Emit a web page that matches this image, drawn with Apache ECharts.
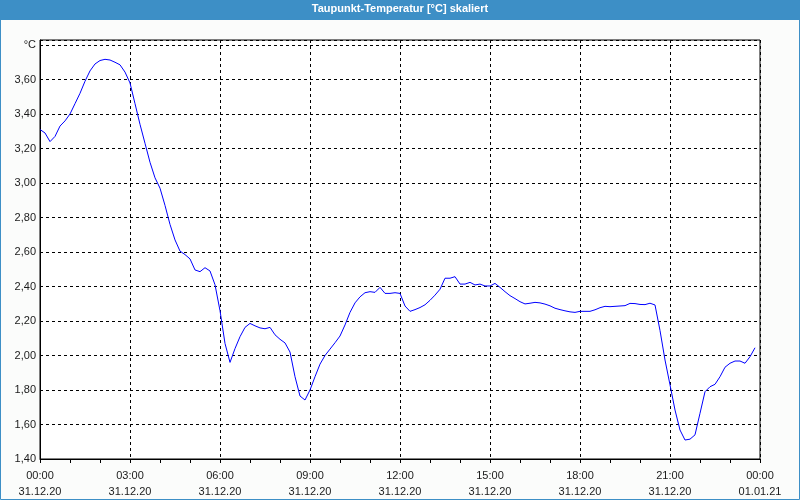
<!DOCTYPE html>
<html>
<head>
<meta charset="utf-8">
<script src="https://cdn.jsdelivr.net/npm/echarts@6/dist/echarts.min.js"></script>
<style>
html,body{margin:0;padding:0;background:#fbfcfb;}
#chart{width:800px;height:500px;}
</style>
</head>
<body>
<div id="chart"></div>
<script>
// Dew point temperature, 10-minute samples from 31.12.20 00:00 to 23:50
const titleText = 'Taupunkt-Temperatur [°C] skaliert';
const stepMinutes = 10;
const dewPoint = [
  3.31, 3.29, 3.24, 3.27, 3.33, 3.36, 3.40, 3.46, 3.52, 3.59, 3.65, 3.69,
  3.71, 3.717, 3.713, 3.70, 3.685, 3.643, 3.58, 3.46, 3.34, 3.23, 3.12, 3.03,
  2.97, 2.87, 2.76, 2.67, 2.605, 2.585, 2.56, 2.496, 2.486, 2.509, 2.49, 2.41,
  2.26, 2.07, 1.96, 2.04, 2.109, 2.163, 2.186, 2.172, 2.16, 2.155, 2.163, 2.12,
  2.094, 2.073, 2.02, 1.877, 1.765, 1.742, 1.80, 1.877, 1.95, 2.00, 2.037, 2.074,
  2.113, 2.177, 2.25, 2.305, 2.34, 2.364, 2.37, 2.366, 2.395, 2.36, 2.36, 2.364,
  2.36, 2.287, 2.256, 2.266, 2.278, 2.294, 2.32, 2.35, 2.384, 2.448, 2.448, 2.457,
  2.414, 2.414, 2.424, 2.409, 2.414, 2.403, 2.403, 2.418, 2.395, 2.37, 2.347, 2.33,
  2.312, 2.299, 2.303, 2.308, 2.305, 2.298, 2.288, 2.274, 2.266, 2.259, 2.253, 2.25,
  2.256, 2.256, 2.256, 2.265, 2.277, 2.285, 2.283, 2.285, 2.287, 2.289, 2.302, 2.301,
  2.296, 2.295, 2.303, 2.293, 2.145, 1.974, 1.83, 1.684, 1.568, 1.51, 1.515, 1.54,
  1.665, 1.79, 1.819, 1.833, 1.877, 1.932, 1.955, 1.968, 1.968, 1.955, 1.993, 2.045
];
const xTickTimes = ['00:00','03:00','06:00','09:00','12:00','15:00','18:00','21:00','00:00'];
const xTickDates = ['31.12.20','31.12.20','31.12.20','31.12.20','31.12.20','31.12.20','31.12.20','31.12.20','01.01.21'];
const yUnit = '°C';

const seriesData = dewPoint.map((v, i) => [i * stepMinutes, v]);

const chart = echarts.init(document.getElementById('chart'), null, {renderer: 'canvas'});
const lab = {fontFamily: 'Liberation Sans, Arial, sans-serif', fontSize: 11, color: '#1a1a1a'};

chart.setOption({
  backgroundColor: '#fbfcfb',
  animation: false,
  graphic: [
    {type: 'rect', z: -1, shape: {x: 0, y: 0, width: 800, height: 20}, style: {fill: '#3d8fc6'}},
    {type: 'rect', z: 100, shape: {x: 0.5, y: 0.5, width: 799, height: 499}, style: {fill: null, stroke: '#3d8fc6', lineWidth: 1}}
  ],
  title: {
    text: titleText,
    left: 'center',
    top: 3,
    padding: 0,
    textStyle: {color: '#ffffff', fontSize: 11, fontWeight: 'bold', fontFamily: 'Liberation Sans, Arial, sans-serif'}
  },
  grid: {
    left: 40, right: 40, top: 40, bottom: 41,
    show: true, backgroundColor: '#ffffff', borderColor: '#000000', borderWidth: 1
  },
  xAxis: {
    type: 'value',
    min: 0, max: 1440, interval: 180,
    axisLine: {show: true, onZero: false, lineStyle: {color: '#000', width: 1}},
    axisTick: {show: true, length: 4, inside: false, lineStyle: {color: '#000'}},
    minorTick: {show: true, splitNumber: 3, length: 4, lineStyle: {color: '#000'}},
    splitLine: {show: true, lineStyle: {color: '#000', type: [3, 3], width: 1}},
    axisLabel: Object.assign({}, lab, {
      margin: 9, lineHeight: 16,
      formatter: function (v) {
        const k = Math.round(v / 180);
        return xTickTimes[k] + '\n' + xTickDates[k];
      }
    })
  },
  yAxis: {
    type: 'value',
    min: 1.4, max: 3.829, interval: 0.2,
    axisLine: {show: true, lineStyle: {color: '#000', width: 1}},
    axisTick: {show: false},
    splitLine: {show: true, lineStyle: {color: '#000', type: [3, 3], width: 1}},
    axisLabel: Object.assign({}, lab, {
      margin: 4, showMaxLabel: false,
      formatter: function (v) {
        const s = v.toFixed(2);
        if (s === '3.80') return yUnit;
        return s.replace('.', ',');
      }
    })
  },
  series: [{
    type: 'line',
    data: seriesData,
    showSymbol: false,
    symbol: 'none',
    smooth: false,
    lineStyle: {color: '#0000ff', width: 1},
    z: 5
  }]
});
</script>
</body>
</html>
